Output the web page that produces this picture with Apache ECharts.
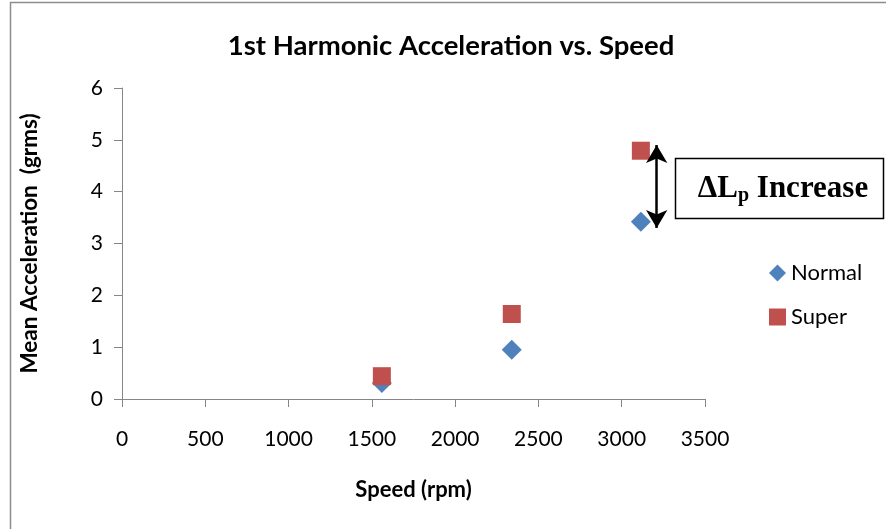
<!DOCTYPE html>
<html><head><meta charset="utf-8">
<script src="https://cdn.jsdelivr.net/npm/echarts@6/dist/echarts.min.js"></script>
<style>html,body{margin:0;padding:0;background:#fff}#c{width:886px;height:529px}</style>
</head><body><div id="c"></div>
<script>
var speeds = [1560, 2340, 3115];
var normal = [0.31, 0.95, 3.42];
var superV = [0.44, 1.64, 4.79];
var xTicks = [0, 500, 1000, 1500, 2000, 2500, 3000, 3500];
var yTicks = [0, 1, 2, 3, 4, 5, 6];
var arrowX = 3210, arrowTop = 4.9, arrowBottom = 3.3;

var chart = echarts.init(document.getElementById('c'), null, {renderer: 'canvas'});
var font = 'Lato, "Open Sans", sans-serif';
var axisCol = '#868686';
chart.setOption({
  animation: false,
  backgroundColor: '#fff',
  title: {text: '1st Harmonic Acceleration vs. Speed', left: 446, top: 27, textAlign: 'center',
    textStyle: {fontFamily: font, fontSize: 27.5, fontWeight: 'bold', color: '#000'}},
  grid: {left: 122, right: 181, top: 88, bottom: 130},
  legend: {orient: 'vertical', left: 764, top: 257, itemGap: 22, itemWidth: 17, itemHeight: 17,
    textStyle: {fontFamily: font, fontSize: 22, color: '#000'},
    data: [{name: 'Normal', icon: 'diamond'}, {name: 'Super', icon: 'rect'}]},
  xAxis: {type: 'value', min: xTicks[0], max: xTicks[xTicks.length-1], interval: 500,
    name: 'Speed (rpm)', nameLocation: 'middle', nameGap: 80,
    nameTextStyle: {fontFamily: font, fontSize: 22, fontWeight: 'bold', color: '#000'},
    axisLine: {show: true, lineStyle: {color: axisCol}},
    axisTick: {show: true, length: 8, lineStyle: {color: axisCol}},
    axisLabel: {fontFamily: font, fontSize: 21, color: '#000', margin: 30,
      formatter: function(v){return String(v);}},
    splitLine: {show: false}},
  yAxis: {type: 'value', min: yTicks[0], max: yTicks[yTicks.length-1], interval: 1,
    name: 'Mean Acceleration  (grms)', nameLocation: 'middle', nameGap: 81, nameRotate: 90,
    nameTextStyle: {fontFamily: font, fontSize: 22.5, fontWeight: 'bold', color: '#000'},
    axisLine: {show: true, lineStyle: {color: axisCol}},
    axisTick: {show: true, length: 8, lineStyle: {color: axisCol}},
    axisLabel: {fontFamily: font, fontSize: 21, color: '#000', margin: 19},
    splitLine: {show: false}},
  series: [
    {name: 'Normal', type: 'scatter', symbol: 'diamond', symbolSize: 20,
      itemStyle: {color: '#4F81BD', opacity: 1},
      data: speeds.map(function(s, i){return [s, normal[i]];})},
    {name: 'Super', type: 'scatter', symbol: 'rect', symbolSize: 18,
      itemStyle: {color: '#C0504D', opacity: 1},
      data: speeds.map(function(s, i){return [s, superV[i]];}),
      markLine: {silent: true, symbol: ['arrow', 'arrow'], symbolSize: [16, 18],
        lineStyle: {color: '#000', width: 2.5, type: 'solid'}, label: {show: false},
        data: [[{coord: [arrowX, arrowTop]}, {coord: [arrowX, arrowBottom]}]]}}
  ],
  graphic: [
    {type: 'rect', shape: {x: 10.5, y: 2.5, width: 900, height: 600}, style: {fill: null, stroke: '#8c8c8c', lineWidth: 1.5}, z: -1},
    {type: 'rect', shape: {x: 675.5, y: 158.5, width: 208, height: 60}, style: {fill: '#fff', stroke: '#000', lineWidth: 1.5}},
    {type: 'text', x: 783, y: 189, style: {
      text: '{m|ΔL}{s|p}{m| Increase}',
      align: 'center', verticalAlign: 'middle', fill: '#000',
      rich: {
        m: {font: 'bold 31px "Liberation Serif", serif', fill: '#000', verticalAlign: 'middle'},
        s: {font: 'bold 20px "Liberation Serif", serif', fill: '#000', padding: [14, 0, 0, 0], verticalAlign: 'middle'}
      }}}
  ]
});
</script></body></html>
